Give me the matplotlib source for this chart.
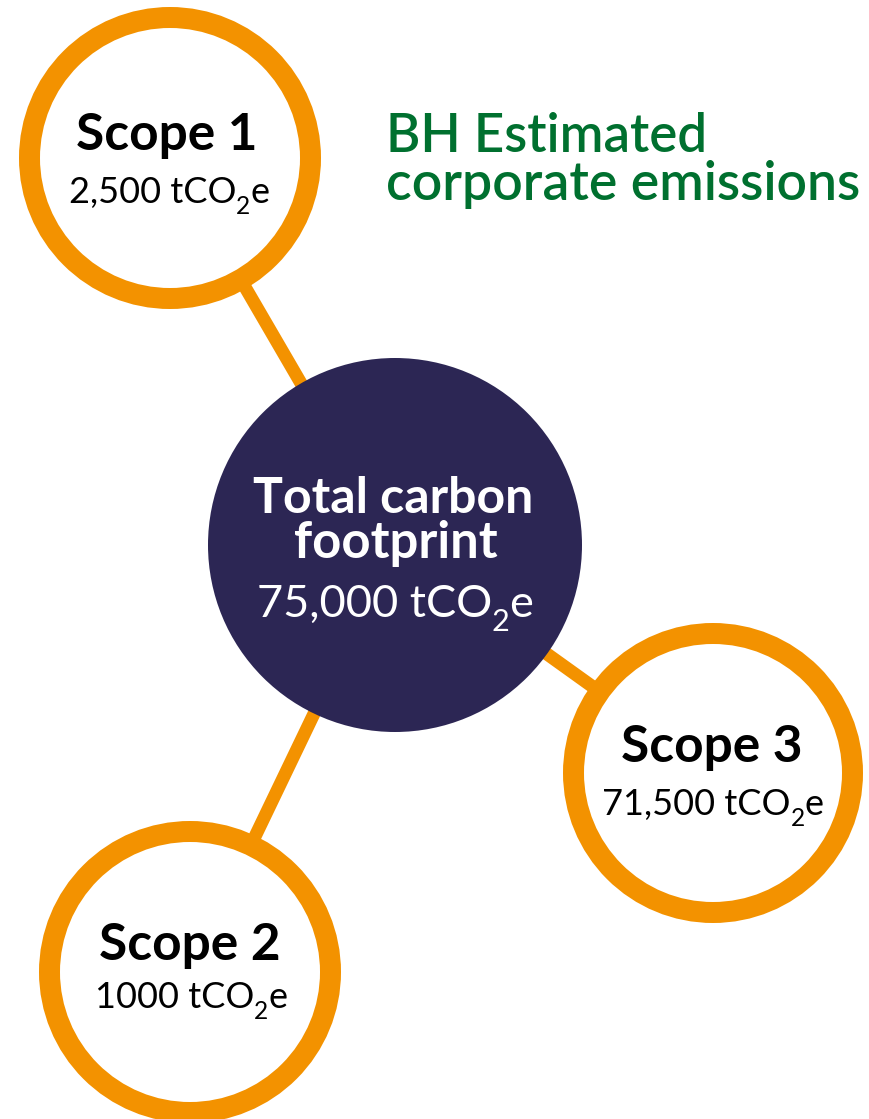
import matplotlib
matplotlib.use("Agg")
import matplotlib.pyplot as plt
from matplotlib.patches import Circle

plt.rcParams['font.family'] = ['Lato', 'DejaVu Sans']

# ---- data ----
scope_names = ["Scope 1", "Scope 2", "Scope 3"]
scope_values = ["2,500", "1000", "71,500"]
total_name = ["Total carbon", "footprint"]
total_value = "75,000"
unit_parts = ["tCO", "2", "e"]
title_lines = ["BH Estimated", "corporate emissions"]

# ---- layout (pixels, y downward) ----
W, H = 870, 1119
center_xy = (395, 545)
center_r = 187
scope_xy = [(170, 158), (190, 972), (713, 773)]
scope_r = [151, 151, 150]
ring_w = 21

ORANGE = "#F39200"
NAVY = "#2C2654"
GREEN = "#00702F"

fig = plt.figure(figsize=(W / 100, H / 100), dpi=100)
ax = fig.add_axes([0, 0, 1, 1])
ax.set_xlim(0, W)
ax.set_ylim(H, 0)
ax.set_aspect('equal')
ax.axis('off')
renderer = fig.canvas.get_renderer()

px = 0.72  # points per pixel at dpi 100

# connectors
for (x, y) in scope_xy:
    ax.plot([center_xy[0], x], [center_xy[1], y], color=ORANGE,
            lw=13 * px, solid_capstyle='butt', zorder=1)

# scope rings
for (x, y), r in zip(scope_xy, scope_r):
    ax.add_patch(Circle((x, y), r, facecolor=ORANGE, edgecolor='none', zorder=2))
    ax.add_patch(Circle((x, y), r - ring_w, facecolor='white', edgecolor='none', zorder=3))

# center
ax.add_patch(Circle(center_xy, center_r, facecolor=NAVY, edgecolor='none', zorder=2))


def value_text(cx, base, number, size, color):
    """Draw '<number> tCO2e' centred at cx with a lowered subscript 2."""
    sub_size = size * 0.68
    drop = size / 0.72 * 0.30  # pixels
    pieces = [(f"{number} {unit_parts[0]}", size, 0),
              (unit_parts[1], sub_size, drop),
              (unit_parts[2], size, 0)]
    arts = []
    widths = []
    for s, fs, dy in pieces:
        t = ax.text(0, base + dy, s, ha='left', va='baseline', fontsize=fs,
                    color=color, zorder=5)
        bb = t.get_window_extent(renderer=renderer)
        arts.append(t)
        widths.append(bb.width)
    total = sum(widths)
    x = cx - total / 2
    for t, w in zip(arts, widths):
        t.set_x(x)
        x += w


# scope texts
name_base = [150, 960, 762]
val_base = [203, 1008, 815]
name_x = [167, 190, 712]
val_x = [169, 191, 713]
for i in range(3):
    ax.text(name_x[i], name_base[i], scope_names[i], ha='center', va='baseline',
            fontsize=37, fontweight='bold', color='black', zorder=5)
    value_text(val_x[i], val_base[i], scope_values[i], 26, 'black')

# center texts
ax.text(393, 513, total_name[0], ha='center', va='baseline', fontsize=36,
        fontweight='bold', color='white', zorder=5)
ax.text(396, 558, total_name[1], ha='center', va='baseline', fontsize=36.5,
        fontweight='bold', color='white', zorder=5)
value_text(395, 617, total_value, 32.5, 'white')

# title
ax.text(386, 152, title_lines[0], ha='left', va='baseline', fontsize=38,
        fontweight='semibold', color=GREEN, zorder=5)
ax.text(386, 200, title_lines[1], ha='left', va='baseline', fontsize=38.5,
        fontweight='semibold', color=GREEN, zorder=5)

fig.savefig("out.png", dpi=100, facecolor='white')
